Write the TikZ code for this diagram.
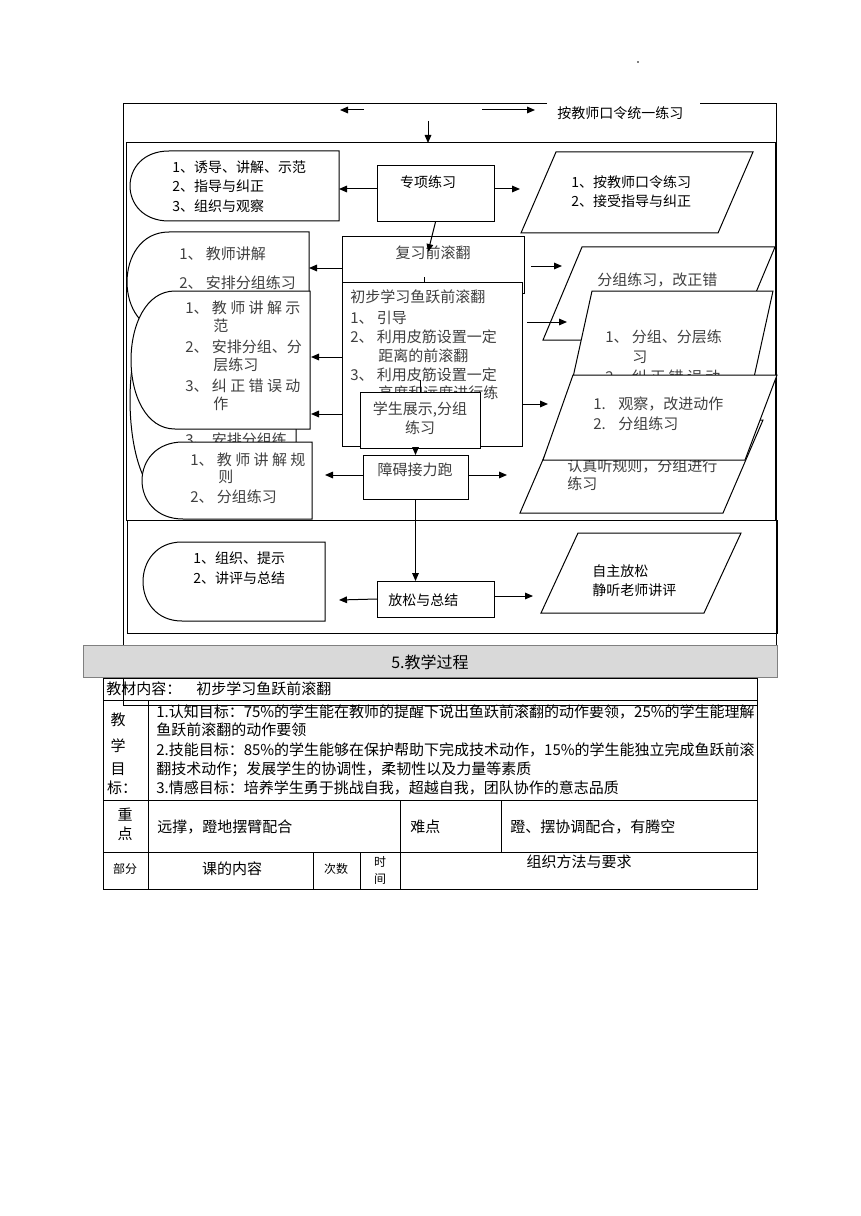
\documentclass[tikz,border=0pt]{standalone}
\usepackage{fontspec}
\setmainfont{Noto Sans CJK SC}
\usetikzlibrary{arrows.meta}
\definecolor{tgray}{HTML}{404040}
\definecolor{barfill}{HTML}{D9D9D9}
\newcommand{\fsA}{\fontsize{10.5pt}{12pt}\selectfont}
\newcommand{\fsB}{\fontsize{11.25pt}{13pt}\selectfont}
\newcommand{\fsS}{\fontsize{9pt}{10pt}\selectfont}
\newcommand{\fsT}{\fontsize{12pt}{14pt}\selectfont}
\newcommand{\dly}[6]{\filldraw[ln,fill=white] (#3,#2) -- (#1,#2) .. controls ({#1-1.333*#5},#2) and ({#1-1.333*#5},#4) .. (#1,#4) -- (#3,#4) -- cycle; \coordinate (#6) at (#3,{(#2+#4)/2});}
\tikzset{
  ln/.style={line width=0.75pt},
  bx/.style={draw, fill=white, ln, inner sep=0pt, outer sep=0pt, anchor=north west},
  pw/.style={minimum width=#1*0.75pt},
  ph/.style={minimum height=#1*0.75pt},
  tx/.style={anchor=west, inner sep=0pt, font=\fsA, text=black},
  gtx/.style={anchor=west, inner sep=0pt, font=\fsB, text=tgray},
  ctx/.style={anchor=center, inner sep=0pt, font=\fsA, text=black},
  cgtx/.style={anchor=center, inner sep=0pt, font=\fsB, text=tgray},
  ttx/.style={anchor=west, inner sep=0pt, font=\fsB, text=black},
  arr/.style={ln, -{Triangle[length=6pt,width=5pt]}},
  para/.style={ln, fill=white},
}
\begin{document}
\begin{tikzpicture}[x=0.75pt,y=-0.75pt]
\useasboundingbox[fill=white] (0,0) rectangle (860,1216);
\fill[gray] (637,61) rectangle (639,63);

% outer frame
\draw[ln] (547,104) -- (123,104) -- (123,705) -- (757,705);
\draw[ln] (700,104) -- (776,104) -- (776,645);
\node[tx] (cmd) at (557,113) {按教师口令统一练习};
\coordinate (la1) at (364,110); \coordinate (la2) at (340,110);
\coordinate (ra1) at (482,110); \coordinate (ra2) at (535,110);
\draw[arr] (la1) -- (la2);
\draw[arr] (ra1) -- (ra2);
\coordinate (da1) at (428,121); \coordinate (da2) at (428,143);
\draw[arr] (da1) -- (da2);

% inner frames
\draw[ln] (126,143) rectangle (775,520);
\draw[ln] (127,520) rectangle (777,633);

% row 1
\dly{169}{151}{339}{221}{39}{b1e}
\node[tx] (b1t1) at (172,167) {1、诱导、讲解、示范};
\node[tx] (b1t2) at (172,186) {2、指导与纠正};
\node[tx] (b1t3) at (172,206) {3、组织与观察};
\node[bx,pw=117,ph=56] (zx) at (377,166) {};
\node[ctx] (zxt) at (428,182) {专项练习};
\filldraw[para] (556,152) coordinate (p1a) -- (753,152) -- (718,233) -- (521,233) coordinate (p1d) -- cycle;
\node[tx] (p1t1) at (571,182) {1、按教师口令练习};
\node[tx] (p1t2) at (571,201) {2、接受指导与纠正};
\draw[arr] (zx.west |- 0,189) -- (b1e |- 0,189);
\coordinate (p1in) at (520,189);
\draw[arr] (zx.east |- 0,189) -- (p1in);

% left column
\dly{169}{232}{309}{332}{42}{b2e}
\node[gtx] (b2t1) at (179,254) {1、 教师讲解};
\node[gtx] (b2t2) at (179,283) {2、 安排分组练习};
\dly{171}{300}{296}{500}{41}{bse}
\node[gtx] (bst) at (185,440) {3、 安排分组练};
\dly{175}{291}{310}{429}{44}{b3e}
\node[gtx] (b3t1) at (185,308) {1、 教 师 讲 解 示};
\node[gtx] (b3t2) at (213,326) {范};
\node[gtx] (b3t3) at (185,347) {2、 安排分组、分};
\node[gtx] (b3t4) at (213,365) {层练习};
\node[gtx] (b3t5) at (185,386) {3、 纠 正 错 误 动};
\node[gtx] (b3t6) at (213,404) {作};
\dly{183}{442}{312}{519}{41}{b4e}
\node[gtx] (b4t1) at (190,460) {1、 教 师 讲 解 规};
\node[gtx] (b4t2) at (218,477) {则};
\node[gtx] (b4t3) at (190,497) {2、 分组练习};

% center column
\node[bx,pw=182,ph=56] (fx) at (342,237) {};
\node[cgtx] (fxt) at (433,253) {复习前滚翻};
\node[bx,pw=180,ph=164] (cb) at (342,282) {};
\draw[ln] (424,277) -- (424,282);
\node[gtx] (cbt1) at (350,297) {初步学习鱼跃前滚翻};
\node[gtx] (cbt2) at (350,318) {1、 引导};
\node[gtx] (cbt3) at (350,337) {2、 利用皮筋设置一定};
\node[gtx] (cbt4) at (378,356) {距离的前滚翻};
\node[gtx] (cbt5) at (350,375) {3、 利用皮筋设置一定};
\node[gtx] (cbt6) at (378,393) {高度和远度进行练};
\draw[ln] (420,380) -- (420,392);
\node[bx,pw=120,ph=56] (xs) at (360,392) {};
\node[cgtx] (xst1) at (420,410) {学生展示,分组};
\node[cgtx] (xst2) at (420,428) {练习};
\node[bx,pw=105,ph=44] (za) at (363,455) {};
\node[cgtx] (zat) at (415,470) {障碍接力跑};
\draw[arr] (zx.south) -- (428,252);

% right parallelograms
\filldraw[para] (582,247) -- (775,247) -- (736,340) -- (543,340) -- cycle;
\node[gtx] (p2t) at (597,280) {分组练习，改正错};
\filldraw[para] (592,291) -- (773,291) -- (738,450) -- (557,450) -- cycle;
\node[gtx] (p3t1) at (605,337) {1、 分组、分层练};
\node[gtx] (p3t2) at (632,357) {习};
\node[gtx] (p3t3) at (605,377) {2、 纠 正 错 误 动};
\filldraw[para] (560,420) -- (763,420) -- (723,513) -- (520,513) -- cycle;
\node[gtx] (p5t1) at (567,466) {认真听规则，分组进行};
\node[gtx] (p5t2) at (567,484) {练习};
\filldraw[para] (573,375) -- (777,375) -- (745,460) -- (543,460) -- cycle;
\node[gtx] (p4n1) at (593,404) {1.};
\node[gtx] (p4t1) at (618,404) {观察，改进动作};
\node[gtx] (p4n2) at (593,424) {2.};
\node[gtx] (p4t2) at (618,424) {分组练习};

% arrows middle
\draw[arr] (fx.west |- 0,268) -- (b2e |- 0,268);
\coordinate (p2in) at (562,266);
\draw[arr] (531,266) -- (p2in);
\draw[arr] (cb.west |- 0,357) -- (311,357);
\draw[arr] (cb.west |- 0,414) -- (311,414);
\coordinate (p3in) at (567,322);
\draw[arr] (527,322) -- (p3in);
\coordinate (p4in) at (548,404);
\draw[arr] (cb.east |- 0,404) -- (p4in);
\draw[arr] (xs.south -| za.north) -- (za.north);
\coordinate (b4in) at (325,475);
\coordinate (p5in) at (507,475);
\draw[arr] (za.west |- 0,475) -- (b4in);
\draw[arr] (za.east |- 0,475) -- (p5in);

% bottom section
\dly{182}{542}{325}{621}{39}{b6e}
\node[tx] (b6t1) at (193,558) {1、组织、提示};
\node[tx] (b6t2) at (193,578) {2、讲评与总结};
\node[bx,pw=117,ph=36] (fs) at (377,581) {};
\node[tx] (fst) at (388,600) {放松与总结};
\filldraw[para] (578,533) -- (741,533) -- (704,613) -- (541,613) -- cycle;
\node[tx] (p6t1) at (592,571) {自主放松};
\node[tx] (p6t2) at (592,590) {静听老师讲评};
\draw[arr] (za.south) -- (za.south |- fs.north);
\coordinate (b6in) at (339,600);
\coordinate (p6in) at (533,596);
\draw[arr] (fs.west) -- (b6in);
\draw[arr] (fs.east |- 0,596) -- (p6in);

% title bar
\node[draw=gray, fill=barfill, ln, anchor=north west, inner sep=0pt, pw=694, ph=32] (bar) at (83,645) {};
\node[anchor=center, inner sep=0pt, font=\fsT] (bart) at (430,662) {5.教学过程};

% table
\draw[ln] (103,678) rectangle (757,889);
\draw[ln] (103,700) -- (757,700);
\draw[ln] (103,800) -- (757,800);
\draw[ln] (103,852) -- (757,852);
\draw[ln] (148,700) -- (148,889);
\draw[ln] (400,800) -- (400,889);
\draw[ln] (501,800) -- (501,852);
\draw[ln] (313,852) -- (313,889);
\draw[ln] (360,852) -- (360,889);
\node[ttx] (r1a) at (106,689) {教材内容：};
\node[ttx] (r1b) at (196,689) {初步学习鱼跃前滚翻};
\node[ctx,font=\fsB] (g1) at (118,720) {教};
\node[ctx,font=\fsB] (g2) at (118,746) {学};
\node[ctx,font=\fsB] (g3) at (118,769) {目};
\node[ctx,font=\fsB] (g4) at (122,788) {标：};
\node[ttx] (o1) at (156,712) {1.认知目标：75\%的学生能在教师的提醒下说出鱼跃前滚翻的动作要领，25\%的学生能理解};
\node[ttx] (o2) at (156,730) {鱼跃前滚翻的动作要领};
\node[ttx] (o3) at (156,750) {2.技能目标：85\%的学生能够在保护帮助下完成技术动作，15\%的学生能独立完成鱼跃前滚};
\node[ttx] (o4) at (156,769) {翻技术动作；发展学生的协调性，柔韧性以及力量等素质};
\node[ttx] (o5) at (156,788) {3.情感目标：培养学生勇于挑战自我，超越自我，团队协作的意志品质};
\node[ctx,font=\fsB] (z1) at (125,815) {重};
\node[ctx,font=\fsB] (z2) at (125,834) {点};
\node[ttx] (z3) at (157,827) {远撑，蹬地摆臂配合};
\node[ttx] (n1) at (410,827) {难点};
\node[ttx] (n2) at (510,827) {蹬、摆协调配合，有腾空};
\node[ctx,font=\fsS] (h1) at (125,869) {部分};
\node[ctx,font=\fsB] (h2) at (232,869) {课的内容};
\node[ctx,font=\fsS] (h3) at (336,869) {次数};
\node[ctx,font=\fsS] (h4) at (380,862) {时};
\node[ctx,font=\fsS] (h5) at (380,879) {间};
\node[ctx,font=\fsB] (h6) at (579,862) {组织方法与要求};
\end{tikzpicture}
\end{document}
